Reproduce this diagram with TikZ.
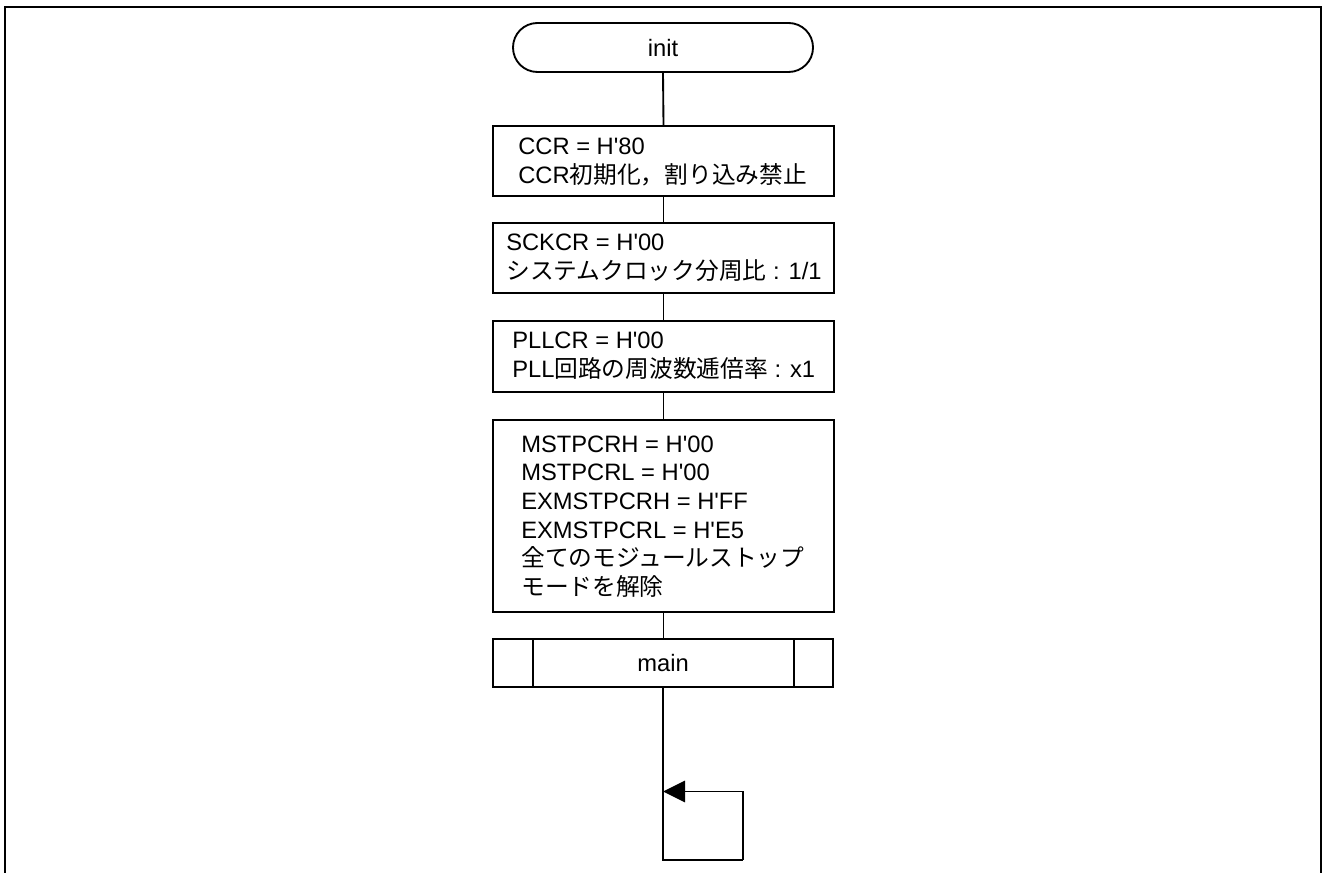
\documentclass[tikz,border=0pt]{standalone}
\usepackage{fontspec}
\setmainfont{Liberation Sans}[Ligatures=TeXOff]
\newfontfamily\jp{Noto Sans CJK JP}
\usetikzlibrary{arrows.meta}
\tikzset{
  box/.style={draw, line width=1.4pt, rectangle, inner sep=0pt, minimum width=255.75pt},
  term/.style={draw, line width=1.4pt, rectangle, rounded corners=18.3pt, inner sep=0pt, minimum width=225pt, minimum height=36.75pt},
  txt/.style={inner sep=0pt, anchor=base west},
  conn/.style={line width=1.4pt},
  frame/.style={line width=2.2pt}
}
\begin{document}
\begin{tikzpicture}[x=0.75pt,y=-0.75pt,every node/.style={font=\fontsize{17.8pt}{21.5pt}\selectfont}]
\useasboundingbox (0,0) rectangle (1324,873);
\draw[frame] (5,873) -- (5,7) -- (1321,7) -- (1321,873);

\node[term] (init) at (663,47.5) {init};
\node[box, minimum height=52.5pt] (b1) at (663.5,161) {};
\node[box, minimum height=52.5pt] (b2) at (663.5,258) {};
\node[box, minimum height=53.25pt] (b3) at (663.5,356.5) {};
\node[box, minimum height=144pt] (b4) at (663.5,516) {};
\node[box, minimum width=255pt, minimum height=36pt] (main) at (663,663) {main};
\draw[conn] ([xshift=30.75pt]main.north west) -- ([xshift=30.75pt]main.south west);
\draw[conn] ([xshift=-30pt]main.north east) -- ([xshift=-30pt]main.south east);

\node[txt] (t11) at (518,155) {CCR = H'80};
\node[txt] (t12) at (518,184) {CCR{\jp 初期化，割り込み禁止}};
\node[txt] (t21) at (506,251) {SCKCR = H'00};
\node[txt] (t22) at (506,280) {{\jp システムクロック分周比} : 1/1};
\node[txt] (t31) at (512,349) {PLLCR = H'00};
\node[txt] (t32) at (512,378) {PLL{\jp 回路の周波数逓倍率} : x1};
\node[txt] (t41) at (521,452) {MSTPCRH = H'00};
\node[txt] (t42) at (521,480.7) {MSTPCRL = H'00};
\node[txt] (t43) at (521,509.4) {EXMSTPCRH = H'FF};
\node[txt] (t44) at (521,538.1) {EXMSTPCRL = H'E5};
\node[txt] (t45) at (521,566.8) {\jp 全てのモジュールストップ};
\node[txt] (t46) at (521,595.5) {\jp モードを解除};

\draw[conn] (init.south) -- (b1.north);
\draw[conn] (b1.south) -- (b2.north);
\draw[conn] (b2.south) -- (b3.north);
\draw[conn] (b3.south) -- (b4.north);
\draw[conn] (b4.south) -- (b4.south |- main.north);

\coordinate (lb) at (663,860);
\coordinate (lr) at (743,860);
\coordinate (lt) at (663,791.5);
\draw[conn] (main.south) -- (lb) -- (lr);
\draw[conn, -{Triangle[length=16.5pt, width=16pt]}] (lr) |- (lt);
\end{tikzpicture}
\end{document}
